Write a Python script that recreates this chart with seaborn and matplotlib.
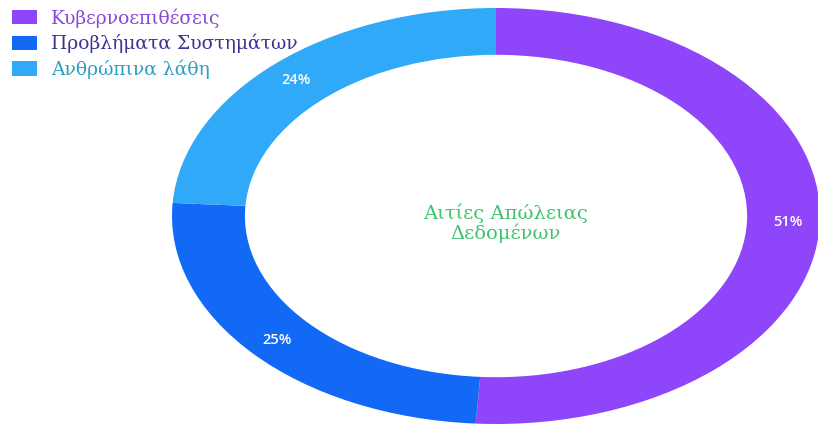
import matplotlib
matplotlib.use("Agg")
import matplotlib.pyplot as plt
import seaborn as sns

# Causes of data loss (share, %)
categories = ["Κυβερνοεπιθέσεις", "Προβλήματα Συστημάτων", "Ανθρώπινα λάθη"]
shares = [51, 25, 24]
slice_colors = ["#8F45FA", "#1169F6", "#30A9F8"]
legend_text_colors = ["#8A46DC", "#3A3490", "#2C9EC4"]
center_title = "Αιτίες Απώλειας\nΔεδομένων"

sns.set_theme(style="white")
plt.rcParams["font.family"] = ["DejaVu Serif"]

fig = plt.figure(figsize=(8.18, 4.24), dpi=100)
fig.patch.set_facecolor("white")
ax = fig.add_axes([172 / 818, 0 / 424, 648 / 818, 416 / 424])

wedges, texts, autotexts = ax.pie(
    shares,
    colors=slice_colors,
    startangle=90,
    counterclock=False,
    radius=1.0,
    autopct="%d%%",
    pctdistance=0.9,
    wedgeprops=dict(width=0.225, edgecolor="none", linewidth=0),
    textprops=dict(color="white", fontsize=10.5, fontweight="semibold",
                   family=["Open Sans", "DejaVu Sans"]),
)
ax.set_aspect("auto")
ax.set_xlim(-1, 1)
ax.set_ylim(-1, 1)
ax.axis("off")

ax.text(0.03, -0.035, center_title, ha="center", va="center",
        fontsize=14, color="#3DC46B", linespacing=1.0)

fs = 13.5
px = fs * 100 / 72
leg = fig.legend(
    wedges, categories,
    loc="upper left", bbox_to_anchor=(12 / 818, 1 - 8 / 424),
    frameon=False, fontsize=fs, borderpad=0, borderaxespad=0,
    handlelength=25 / px, handleheight=15 / px,
    handletextpad=14 / px, labelspacing=0.33,
)
for txt, col in zip(leg.get_texts(), legend_text_colors):
    txt.set_color(col)

fig.savefig("out.png", dpi=100, facecolor="white")
